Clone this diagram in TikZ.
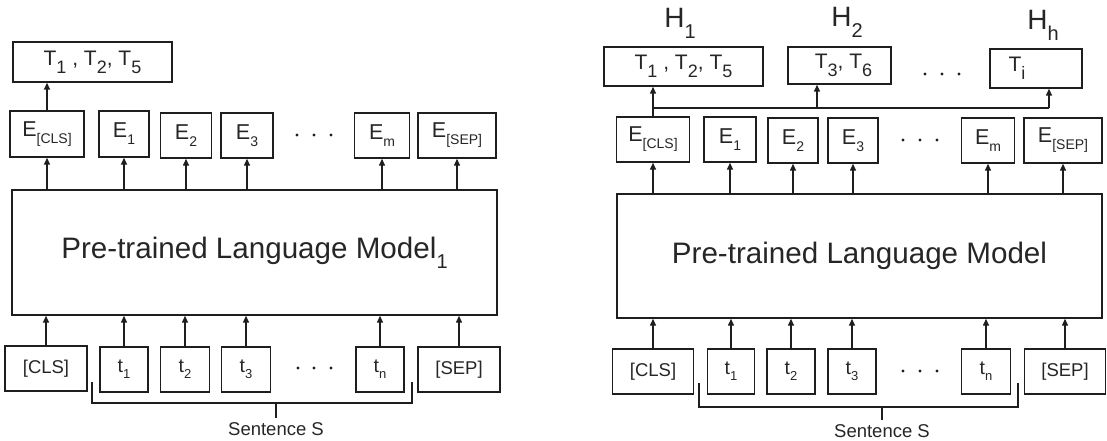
\documentclass[tikz,border=0pt]{standalone}
\usepackage{fontspec}
\setmainfont{Liberation Sans}
\usetikzlibrary{arrows.meta}
\definecolor{linec}{HTML}{1E1E1E}
\definecolor{txtc}{HTML}{262626}
\newcommand\lo[3]{\raisebox{-#1pt}{\fontsize{#2}{#2}\selectfont #3}}
\newcommand\fs[1]{\fontsize{#1}{#1}\selectfont}
\begin{document}
\begin{tikzpicture}[x=1pt,y=-1pt,
  box/.style={draw=linec, line width=1.4pt, inner sep=0pt, text=txtc, rectangle},
  ebox/.style={box, minimum height=45pt, font=\fs{21.5}},
  tbox/.style={box, minimum height=45pt, font=\fs{19.5}},
  sbox/.style={box, minimum height=45pt, font=\fs{18.5}},
  obox/.style={box, minimum height=39pt, font=\fs{21}},
  arr/.style={draw=linec, line width=1.4pt, -{Triangle[length=7pt,width=6pt]}},
  ln/.style={draw=linec, line width=1.4pt},
  dot/.style={circle, fill=linec, inner sep=0pt, minimum size=3.2pt},
  lbl/.style={text=txtc, inner sep=0pt}]
\useasboundingbox (0,0) rectangle (1107,441);
% ===================== LEFT PANEL =====================
\node[obox, minimum width=159pt, minimum height=40pt] (lT) at (92.5,62) {T\lo{8}{18}{1} , T\lo{8}{18}{2}, T\lo{8}{18}{5}};
\node[ebox, minimum width=74pt, minimum height=46pt] (lEc) at (47,134) {E\lo{7}{14}{[CLS]}};
\node[ebox, minimum width=50pt, minimum height=46pt] (lE1) at (124,134) {E\lo{7}{14}{1}};
\node[ebox, minimum width=51pt] (lE2) at (186,135.5) {E\lo{7}{14}{2}};
\node[ebox, minimum width=52pt] (lE3) at (247,135.5) {E\lo{7}{14}{3}};
\node[ebox, minimum width=55pt] (lEm) at (382,135.5) {E\lo{7}{14}{m}};
\node[ebox, minimum width=78pt] (lEs) at (457,135.5) {E\lo{7}{14}{[SEP]}};
\node[dot] (ld1) at (297,135) {};
\node[dot] (ld2) at (314,135) {};
\node[dot] (ld3) at (331,135) {};
\node[box, minimum width=485pt, minimum height=125pt, font=\fs{29.6}] (lM) at (254.5,252.5) {Pre-trained Language Model\lo{10}{20}{1}};
\node[sbox, minimum width=82pt] (lC) at (46,368.5) {[CLS]};
\node[tbox, minimum width=48pt] (lt1) at (124,369.5) {t\lo{6}{13}{1}};
\node[tbox, minimum width=49pt] (lt2) at (185,369.5) {t\lo{6}{13}{2}};
\node[tbox, minimum width=49pt] (lt3) at (246,369.5) {t\lo{6}{13}{3}};
\node[tbox, minimum width=48pt] (ltn) at (380,369.5) {t\lo{6}{13}{n}};
\node[sbox, minimum width=82pt] (lS) at (459,369.5) {[SEP]};
\node[dot] (lb1) at (298,368) {};
\node[dot] (lb2) at (314,368) {};
\node[dot] (lb3) at (331,368) {};
% arrows
\draw[arr] (lEc.north) -- (lEc.north |- lT.south);
\foreach \n in {lEc,lE1,lE2,lE3,lEm,lEs} \draw[arr] (\n.south |- lM.north) -- (\n.south);
\foreach \n in {lC,lt1,lt2,lt3,ltn,lS} \draw[arr] (\n.north) -- (\n.north |- lM.south);
% brace
\coordinate (lbA) at (92,382);
\coordinate (lbB) at (412,382);
\coordinate (lbM) at (276,403);
\draw[ln] (lbA) -- (lbA |- lbM) -- (lbB |- lbM) -- (lbB);
\node[lbl, font=\fs{18.5}] (lSent) at (276,429) {Sentence S};
\draw[ln] (lbM) -- (lbM |- 0,418);
% ===================== RIGHT PANEL =====================
\node[lbl, font=\fs{28}] (H1) at (680,23) {H\lo{11}{20}{1}};
\node[lbl, font=\fs{28}] (H2) at (847,22) {H\lo{11}{20}{2}};
\node[lbl, font=\fs{28}] (Hh) at (1043,25) {H\lo{11}{20}{h}};
\node[obox, minimum width=159pt] (rT1) at (683.5,66.5) {T\lo{8}{18}{1} , T\lo{8}{18}{2}, T\lo{8}{18}{5}};
\node[obox, minimum width=103pt, minimum height=37pt] (rT3) at (839.5,65.5) {\hspace*{8pt}T\lo{8}{18}{3}, T\lo{8}{18}{6}};
\node[obox, minimum width=92pt] (rTi) at (1036,68.5) {T\lo{8}{18}{i}\hspace*{38pt}};
\node[dot] (rd1) at (925,74) {};
\node[dot] (rd2) at (942,74) {};
\node[dot] (rd3) at (959,74) {};
\node[ebox, minimum width=73pt] (rEc) at (653,139.5) {E\lo{7}{14}{[CLS]}};
\node[ebox, minimum width=52pt] (rE1) at (730,139.5) {E\lo{7}{14}{1}};
\node[ebox, minimum width=50pt] (rE2) at (793,140.5) {E\lo{7}{14}{2}};
\node[ebox, minimum width=50pt] (rE3) at (853,140.5) {E\lo{7}{14}{3}};
\node[ebox, minimum width=53pt] (rEm) at (988,140.5) {E\lo{7}{14}{m}};
\node[ebox, minimum width=78pt] (rEs) at (1063,140.5) {E\lo{7}{14}{[SEP]}};
\node[dot] (re1) at (903,140) {};
\node[dot] (re2) at (920,140) {};
\node[dot] (re3) at (937,140) {};
\node[box, minimum width=485pt, minimum height=124pt, font=\fs{29.6}] (rM) at (859.5,256) {Pre-trained Language Model};
\node[sbox, minimum width=81pt] (rC) at (653,371.5) {[CLS]};
\node[tbox, minimum width=47pt] (rt1) at (731,371.5) {t\lo{6}{13}{1}};
\node[tbox, minimum width=48pt] (rt2) at (791,371.5) {t\lo{6}{13}{2}};
\node[tbox, minimum width=48pt] (rt3) at (852,371.5) {t\lo{6}{13}{3}};
\node[tbox, minimum width=49pt] (rtn) at (986,371.5) {t\lo{6}{13}{n}};
\node[sbox, minimum width=81pt] (rS) at (1065,371.5) {[SEP]};
\node[dot] (rb1) at (903,371) {};
\node[dot] (rb2) at (920,371) {};
\node[dot] (rb3) at (937,371) {};
% arrows
\coordinate (rJ) at (653,108);
\coordinate (rJ2) at (817,108);
\coordinate (rJ3) at (1049,108);
\draw[arr] (rEc.north) -- (rEc.north |- rT1.south);
\draw[ln] (rJ) -- (rJ3);
\draw[arr] (rJ2) -- (rJ2 |- rT3.south);
\draw[arr] (rJ3) -- (rJ3 |- rTi.south);
\foreach \n in {rEc,rE1,rE2,rE3,rEm,rEs} \draw[arr] (\n.south |- rM.north) -- (\n.south);
\foreach \n in {rC,rt1,rt2,rt3,rtn,rS} \draw[arr] (\n.north) -- (\n.north |- rM.south);
% brace
\coordinate (rbA) at (699,383);
\coordinate (rbB) at (1018,383);
\coordinate (rbM) at (882,407);
\draw[ln] (rbA) -- (rbA |- rbM) -- (rbB |- rbM) -- (rbB);
\node[lbl, font=\fs{18.5}] (rSent) at (882,431) {Sentence S};
\draw[ln] (rbM) -- (rbM |- 0,420);
\end{tikzpicture}
\end{document}
